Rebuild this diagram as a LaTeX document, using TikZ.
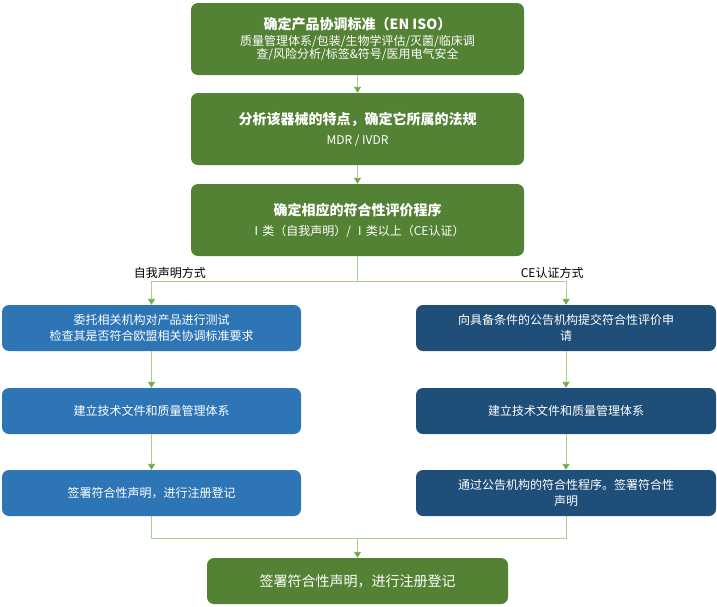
\documentclass[tikz,border=0pt]{standalone}
\usepackage{fontspec}
\setmainfont{Noto Sans CJK SC}
\usetikzlibrary{arrows.meta}
\definecolor{gbox}{HTML}{548235}
\definecolor{lbox}{HTML}{2E75B6}
\definecolor{rbox}{HTML}{1F4E79}
\definecolor{ln}{HTML}{A9D18E}
\definecolor{tip}{HTML}{70AD47}
\begin{document}
\begin{tikzpicture}[x=1pt,y=-1pt,
  box/.style={rounded corners=7pt,text=white,align=center,inner sep=0pt},
  gb/.style={box,fill=gbox,minimum width=333pt,minimum height=72pt},
  lb/.style={box,fill=lbox,minimum width=299pt,minimum height=46pt,font=\fontsize{12}{16}\selectfont},
  rb/.style={box,fill=rbox,minimum width=300pt,minimum height=46pt,font=\fontsize{12}{16}\selectfont},
  con/.style={draw=ln,line width=0.9pt},
  arr/.style={con,-{Triangle[length=6pt,width=7pt,color=tip]}}]
\useasboundingbox (0,0) rectangle (717,606);
\node[gb] (a) at (357.5,39) {\fontsize{14}{18}\selectfont\bfseries 确定产品协调标准（EN ISO）\\[4pt]\fontsize{12}{16}\selectfont 质量管理体系/包装/生物学评估/灭菌/临床调\\\fontsize{12}{16}\selectfont 查/风险分析/标签\&符号/医用电气安全};
\node[gb] (b) at (357.5,129) {\fontsize{14}{18}\selectfont\bfseries 分析该器械的特点，确定它所属的法规\\[8pt]\fontsize{12}{16}\selectfont MDR / IVDR};
\node[gb] (c) at (357.5,220) {\fontsize{14}{18}\selectfont\bfseries 确定相应的符合性评价程序\\[8pt]\fontsize{12}{16}\selectfont Ⅰ类（自我声明）/ Ⅰ类以上（CE认证）};
\node[lb] (l1) at (151.5,328) {委托相关机构对产品进行测试\\检查其是否符合欧盟相关协调标准要求};
\node[lb] (l2) at (151.5,411) {建立技术文件和质量管理体系};
\node[lb] (l3) at (151.5,493) {签署符合性声明，进行注册登记};
\node[rb] (r1) at (566,328) {向具备条件的公告机构提交符合性评价申\\请};
\node[rb] (r2) at (566,411) {建立技术文件和质量管理体系};
\node[rb] (r3) at (566,493) {通过公告机构的符合性程序。签署符合性\\声明};
\node[box,fill=gbox,minimum width=301pt,minimum height=46pt,font=\fontsize{14}{18}\selectfont] (d) at (357.5,581) {签署符合性声明，进行注册登记};
\coordinate (s) at (357.5,281);
\coordinate (m) at (357.5,538);
\draw[arr] (a) -- (b);
\draw[arr] (b) -- (c);
\draw[con] (c) -- (s);
\draw[arr] (s) -| (l1.north) node[pos=0.5,above right,font=\fontsize{12}{14}\selectfont,text=black,xshift=-20pt,inner sep=2pt]{自我声明方式};
\draw[arr] (s) -| (r1.north) node[pos=0.5,above left,font=\fontsize{12}{14}\selectfont,text=black,inner sep=2pt,xshift=20pt]{CE认证方式};
\draw[arr] (l1) -- (l2);
\draw[arr] (l2) -- (l3);
\draw[arr] (r1) -- (r2);
\draw[arr] (r2) -- (r3);
\draw[con] (l3.south) |- (m);
\draw[con] (r3.south) |- (m);
\draw[arr] (m) -- (d);
\end{tikzpicture}
\end{document}
